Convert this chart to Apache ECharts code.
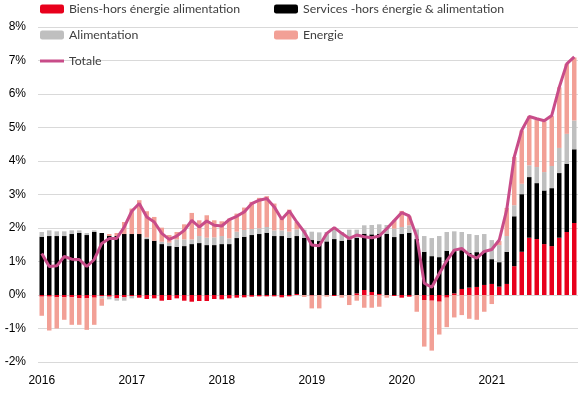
<!DOCTYPE html>
<html>
<head>
<meta charset="utf-8">
<script src="https://cdn.jsdelivr.net/npm/echarts@6/dist/echarts.min.js"></script>
<style>
html,body{margin:0;padding:0;background:#fff;}
#c{width:580px;height:393px;}
</style>
</head>
<body>
<div id="c"></div>
<script>
// Monthly categories Jan 2016 - Dec 2021
const years = [2016, 2017, 2018, 2019, 2020, 2021];
const months = [];
years.forEach(y => { for (let m = 1; m <= 12; m++) months.push(y + '-' + (m < 10 ? '0' + m : m)); });

const biens = [
  -0.05, -0.05, -0.07, -0.07, -0.07, -0.10, -0.10, -0.08, -0.03, -0.05, -0.10, -0.07,
  -0.03, -0.08, -0.12, -0.10, -0.17, -0.15, -0.10, -0.17, -0.20, -0.18, -0.18, -0.12,
  -0.13, -0.10, -0.08, -0.07, -0.05, -0.04, -0.04, -0.04, -0.07, -0.04, 0.03, 0.00,
  -0.02, 0.00, 0.00, -0.03, 0.00, 0.00, 0.05, 0.15, 0.09, 0.03, 0.00, -0.03,
  -0.08, -0.05, 0.00, -0.15, -0.17, -0.20, -0.08, 0.05, 0.18, 0.22, 0.24, 0.30,
  0.33, 0.25, 0.33, 0.86, 1.29, 1.71, 1.67, 1.52, 1.46, 1.71, 1.88, 2.15
];
const services = [
  1.74, 1.76, 1.76, 1.76, 1.82, 1.85, 1.79, 1.88, 1.85, 1.76, 1.76, 1.82,
  1.82, 1.82, 1.67, 1.62, 1.52, 1.46, 1.44, 1.46, 1.52, 1.55, 1.49, 1.49,
  1.52, 1.52, 1.70, 1.74, 1.79, 1.82, 1.86, 1.76, 1.76, 1.71, 1.73, 1.71,
  1.64, 1.61, 1.60, 1.67, 1.62, 1.66, 1.66, 1.68, 1.72, 1.80, 1.83, 1.73,
  1.82, 1.86, 1.67, 1.29, 1.16, 1.13, 1.32, 1.26, 1.16, 1.04, 1.04, 1.02,
  0.74, 0.73, 0.96, 1.49, 1.72, 1.81, 1.67, 1.60, 1.73, 1.93, 2.04, 2.20
];
const alimentation = [
  0.14, 0.17, 0.14, 0.14, 0.11, 0.08, 0.06, 0.05, -0.07, -0.08, -0.07, -0.10,
  -0.07, 0.00, 0.05, 0.00, 0.07, 0.10, 0.22, 0.20, 0.14, 0.21, 0.22, 0.23,
  0.24, 0.17, 0.19, 0.20, 0.18, 0.17, 0.17, 0.17, 0.17, 0.18, 0.20, 0.24,
  0.25, 0.26, 0.28, 0.27, 0.26, 0.29, 0.24, 0.25, 0.28, 0.28, 0.26, 0.25,
  0.21, 0.22, 0.29, 0.47, 0.54, 0.63, 0.56, 0.59, 0.54, 0.56, 0.51, 0.50,
  0.57, 0.51, 0.47, 0.33, 0.31, 0.35, 0.48, 0.55, 0.66, 0.75, 0.89, 0.86
];
const energie = [
  -0.57, -1.01, -0.93, -0.67, -0.82, -0.79, -0.94, -0.81, -0.22, 0.06, 0.09, 0.36,
  0.76, 1.01, 0.78, 0.71, 0.42, 0.23, 0.22, 0.45, 0.79, 0.47, 0.67, 0.51,
  0.44, 0.59, 0.54, 0.67, 0.81, 0.91, 0.92, 0.80, 0.35, 0.66, 0.22, -0.06,
  -0.38, -0.40, -0.05, 0.07, -0.08, -0.30, -0.17, -0.38, -0.38, -0.35, -0.08, 0.25,
  0.48, 0.27, -0.50, -1.39, -1.49, -0.98, -0.88, -0.67, -0.60, -0.71, -0.74, -0.50,
  -0.27, 0.12, 0.84, 1.44, 1.59, 1.46, 1.41, 1.51, 1.49, 1.81, 2.09, 1.88
];
const totale = [
  1.24, 0.85, 0.87, 1.15, 1.07, 1.06, 0.85, 1.06, 1.54, 1.69, 1.69, 2.03,
  2.50, 2.73, 2.33, 2.18, 1.84, 1.66, 1.76, 1.93, 2.23, 2.03, 2.21, 2.08,
  2.06, 2.25, 2.35, 2.48, 2.73, 2.83, 2.88, 2.63, 2.26, 2.51, 2.18, 1.88,
  1.49, 1.47, 1.84, 2.01, 1.84, 1.69, 1.79, 1.74, 1.71, 1.76, 1.98, 2.22,
  2.46, 2.36, 1.74, 0.35, 0.23, 0.64, 1.02, 1.34, 1.39, 1.20, 1.10, 1.30,
  1.36, 1.64, 2.55, 4.12, 4.92, 5.33, 5.26, 5.20, 5.36, 6.20, 6.90, 7.11
];

const names = ['Biens-hors énergie alimentation', 'Services -hors énergie & alimentation', 'Alimentation', 'Energie', 'Totale'];
const colors = ['#e8001c', '#000000', '#bfbfbf', '#f2a096', '#c84c89'];

const chart = echarts.init(document.getElementById('c'), null, {renderer: 'canvas'});
const legendText = {fontFamily: 'Lato', fontSize: 12.3, color: '#404040', lineHeight: 14};
function bar(i, data) {
  return {name: names[i], type: 'bar', stack: 'total', data: data, barWidth: '60%',
    itemStyle: {color: colors[i]}, emphasis: {disabled: true}};
}
chart.setOption({
  animation: false,
  textStyle: {fontFamily: 'Liberation Sans'},
  grid: {left: 38, right: 2, top: 27, bottom: 31, containLabel: false},
  legend: [
    {left: 40, top: 2, orient: 'vertical', itemWidth: 24, itemHeight: 9, itemGap: 12, padding: 0,
     data: [names[0], names[2]], textStyle: legendText, selectedMode: false},
    {left: 274, top: 2, orient: 'vertical', itemWidth: 24, itemHeight: 9, itemGap: 12, padding: 0,
     data: [names[1], names[3]], textStyle: legendText, selectedMode: false},
    {left: 40, top: 54, orient: 'vertical', itemWidth: 24, itemHeight: 3, padding: 0,
     data: [{name: names[4], icon: 'rect'}], textStyle: legendText, selectedMode: false}
  ],
  xAxis: {
    type: 'category', data: months, boundaryGap: true,
    axisLine: {show: false}, axisTick: {show: false},
    axisLabel: {
      interval: function (idx) { return idx % 12 === 0; },
      formatter: function (v) { return v.slice(0, 4); },
      color: '#000', fontSize: 12, margin: 13
    },
    splitLine: {show: false}
  },
  yAxis: {
    type: 'value', min: -2, max: 8, interval: 1,
    axisLine: {show: false}, axisTick: {show: false},
    axisLabel: {formatter: '{value}%', color: '#000', fontSize: 12, margin: 12},
    splitLine: {lineStyle: {color: '#d9d9d9', width: 1}}
  },
  series: [
    bar(0, biens), bar(1, services), bar(2, alimentation), bar(3, energie),
    {name: names[4], type: 'line', data: totale, symbol: 'none', z: 10,
     lineStyle: {color: colors[4], width: 3}, itemStyle: {color: colors[4]}, emphasis: {disabled: true}}
  ]
});
</script>
</body>
</html>
